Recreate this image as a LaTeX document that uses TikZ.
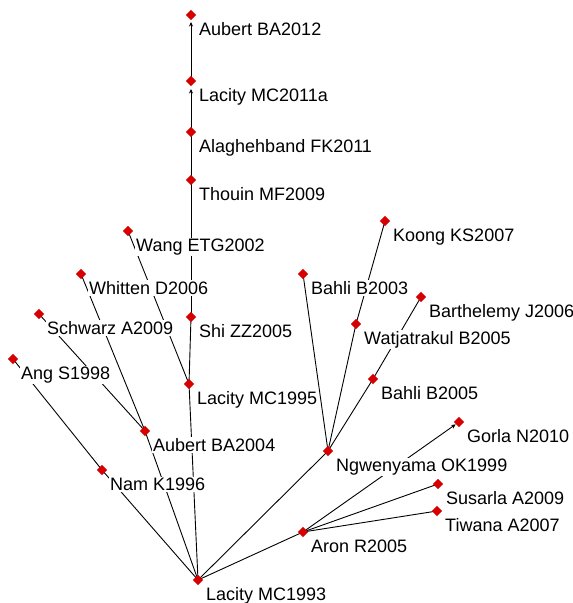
\documentclass[tikz,border=0pt]{standalone}
\usepackage{fontspec}
\setmainfont{Liberation Sans}
\usetikzlibrary{calc,shapes.geometric,arrows.meta}
\definecolor{dotred}{RGB}{214,0,0}
\tikzset{
  edge/.style={draw=black, line width=0.9bp},
  arr/.style={edge, -{Stealth[length=4.5bp,width=4bp]}},
  lab/.style={anchor=base west, fill=white, inner sep=1bp, text=black,
    font=\fontsize{18bp}{20bp}\selectfont},
  dot/.style={diamond, fill=dotred, draw=none, inner sep=0pt, minimum size=10.5bp},
}
\newcommand{\lbl}[3]{\node[lab] (#1) at ($(#2)+(7,20.5)$) {#3};}
\begin{document}
\begin{tikzpicture}[x=1bp,y=-1bp]
\useasboundingbox (0,0) rectangle (573,603);
% positions
\coordinate (ba2012) at (191,15);
\coordinate (mc2011a) at (191,81);
\coordinate (alag) at (191,132);
\coordinate (thouin) at (191,180);
\coordinate (wang) at (128,231);
\coordinate (whitten) at (81,274);
\coordinate (schwarz) at (39,314);
\coordinate (ang) at (13,359);
\coordinate (shi) at (191,317);
\coordinate (mc1995) at (189,384);
\coordinate (ba2004) at (145,431);
\coordinate (nam) at (102,470);
\coordinate (mc1993) at (198,580);
\coordinate (koong) at (385,221);
\coordinate (bahli03) at (303,274);
\coordinate (barth) at (421,297);
\coordinate (watj) at (356,324);
\coordinate (bahli05) at (373,379);
\coordinate (gorla) at (459,422);
\coordinate (ngw) at (328,451);
\coordinate (susarla) at (438,484);
\coordinate (tiwana) at (437,511);
\coordinate (aron) at (303,532);
% edges
\draw[edge] (mc1993) -- (mc1995);
\draw[edge] (mc1995) -- (shi);
\draw[edge] (shi) -- (thouin);
\draw[edge] (thouin) -- (alag);
\draw[arr, shorten >=8bp] (alag) -- (mc2011a);
\draw[arr, shorten >=7bp] (mc2011a) -- (ba2012);
\draw[edge] (wang) -- (mc1995);
\draw[edge] (whitten) -- (ba2004);
\draw[edge] (schwarz) -- (ba2004);
\draw[edge] (ang) -- (nam);
\draw[edge] (nam) -- (mc1993);
\draw[edge] (ba2004) -- (mc1993);
\draw[edge] (ngw) -- (mc1993);
\draw[edge] (aron) -- (mc1993);
\draw[edge] (bahli03) -- (ngw);
\draw[edge] (watj) -- (ngw);
\draw[edge] (koong) -- (watj);
\draw[edge] (barth) -- (bahli05);
\draw[edge] (bahli05) -- (ngw);
\draw[arr, shorten >=4bp] (aron) -- (gorla);
\draw[edge] (susarla) -- (aron);
\draw[edge] (tiwana) -- (aron);
% labels
\lbl{l-ba2012}{ba2012}{Aubert BA2012}
\lbl{l-mc2011a}{mc2011a}{Lacity MC2011a}
\lbl{l-alag}{alag}{Alaghehband FK2011}
\lbl{l-thouin}{thouin}{Thouin MF2009}
\lbl{l-wang}{wang}{Wang ETG2002}
\lbl{l-whitten}{whitten}{Whitten D2006}
\lbl{l-schwarz}{schwarz}{Schwarz A2009}
\lbl{l-ang}{ang}{Ang S1998}
\lbl{l-shi}{shi}{Shi ZZ2005}
\lbl{l-mc1995}{mc1995}{Lacity MC1995}
\lbl{l-ba2004}{ba2004}{Aubert BA2004}
\lbl{l-nam}{nam}{Nam K1996}
\lbl{l-mc1993}{mc1993}{Lacity MC1993}
\lbl{l-koong}{koong}{Koong KS2007}
\lbl{l-bahli03}{bahli03}{Bahli B2003}
\lbl{l-barth}{barth}{Barthelemy J2006}
\lbl{l-watj}{watj}{Watjatrakul B2005}
\lbl{l-bahli05}{bahli05}{Bahli B2005}
\lbl{l-gorla}{gorla}{Gorla N2010}
\lbl{l-ngw}{ngw}{Ngwenyama OK1999}
\lbl{l-susarla}{susarla}{Susarla A2009}
\lbl{l-tiwana}{tiwana}{Tiwana A2007}
\lbl{l-aron}{aron}{Aron R2005}
% vertices
\foreach \p in {ba2012,mc2011a,alag,thouin,wang,whitten,schwarz,ang,shi,mc1995,ba2004,nam,mc1993,koong,bahli03,barth,watj,bahli05,gorla,ngw,susarla,tiwana,aron}
  \node[dot] (d-\p) at (\p) {};
\end{tikzpicture}
\end{document}
